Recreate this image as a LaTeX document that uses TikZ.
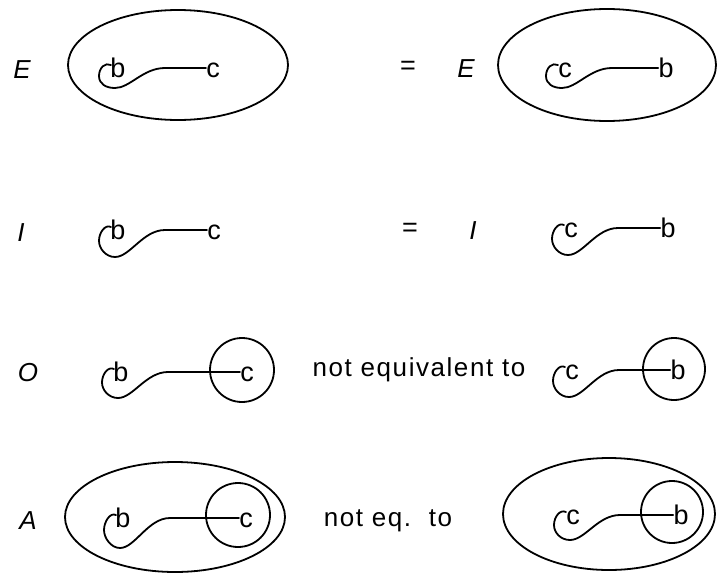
\documentclass[tikz,border=0pt]{standalone}
\usepackage{fontspec}
\setmainfont{Liberation Sans}
\newcommand\linkhook[3]{%
  \draw[curve] ([shift={(-7,-3)}]#1.center)
    .. controls +(-6,-3) and +(0,-8) .. ([shift={(-19,0.4*#3)}]#1.center)
    .. controls +(0,8) and +(-9,0) .. ([shift={(-3,#3)}]#1.center)
    .. controls +(15,0) and +(-22,0) .. ([shift={(47,0)}]#1.center)
    -- (#2.west);}
\tikzset{
  lt/.style={font=\fontsize{27}{30}\selectfont, inner sep=0pt, text height=18pt, text depth=0pt},
  capl/.style={font=\fontsize{26}{30}\selectfont\itshape, inner sep=0pt, text height=18pt, text depth=0pt},
  phrase/.style={font=\fontsize{26}{30}\selectfont\addfontfeature{LetterSpace=6}, inner sep=0pt, text height=18pt, text depth=0pt},
  curve/.style={line width=1.8pt, line cap=round, line join=round},
  ring/.style={line width=1.8pt},
}
\begin{document}
\begin{tikzpicture}[x=1pt,y=-1pt]
\useasboundingbox[fill=white] (0,0) rectangle (717,573);
% Row 1
\node[capl] (E1) at (22,69) {E};
\draw[ring] (178,65) ellipse [x radius=110pt, y radius=55pt];
\node[lt] (b1) at (118,68) {b};
\node[lt] (c1) at (213,68) {c};
\linkhook{b1}{c1}{20}
\node[lt] (eq1) at (408,65) {=};
\node[capl] (E2) at (466,68) {E};
\draw[ring] (607,65) ellipse [x radius=109pt, y radius=56pt];
\node[lt] (c2) at (565,68) {c};
\node[lt] (b2) at (666,68) {b};
\linkhook{c2}{b2}{20}
% Row 2
\node[capl] (I1) at (21,232) {I};
\node[lt] (b3) at (118,230) {b};
\node[lt] (c3) at (214,230) {c};
\linkhook{b3}{c3}{27}
\node[lt] (eq2) at (410,227) {=};
\node[capl] (I2) at (473,230) {I};
\node[lt] (c4) at (571,228) {c};
\node[lt] (b4) at (668,228) {b};
\linkhook{c4}{b4}{27}
% Row 3
\node[capl] (O1) at (28,372) {O};
\node[lt] (b5) at (121,372) {b};
\node[lt] (c5) at (247,372) {c};
\draw[ring] (242,370) circle [radius=32pt];
\linkhook{b5}{c5}{26}
\node[phrase] (t1) at (419,367) {not equivalent to};
\node[lt] (c6) at (572,370) {c};
\node[lt] (b6) at (678,370) {b};
\draw[ring] (674,369) circle [radius=31pt];
\linkhook{c6}{b6}{27}
% Row 4
\node[capl] (A1) at (28,520) {A};
\draw[ring] (175,517) ellipse [x radius=110pt, y radius=55pt];
\node[lt] (b7) at (123,518) {b};
\node[lt] (c7) at (246,518) {c};
\draw[ring] (238,515) circle [radius=32pt];
\linkhook{b7}{c7}{30}
\node[phrase] (t2) at (388,517) {not eq.\ \ to};
\draw[ring] (609,514) ellipse [x radius=106pt, y radius=56pt];
\node[lt] (c8) at (573,515) {c};
\node[lt] (b8) at (681,515) {b};
\draw[ring] (672,512) circle [radius=31pt];
\linkhook{c8}{b8}{25}
\end{tikzpicture}
\end{document}
